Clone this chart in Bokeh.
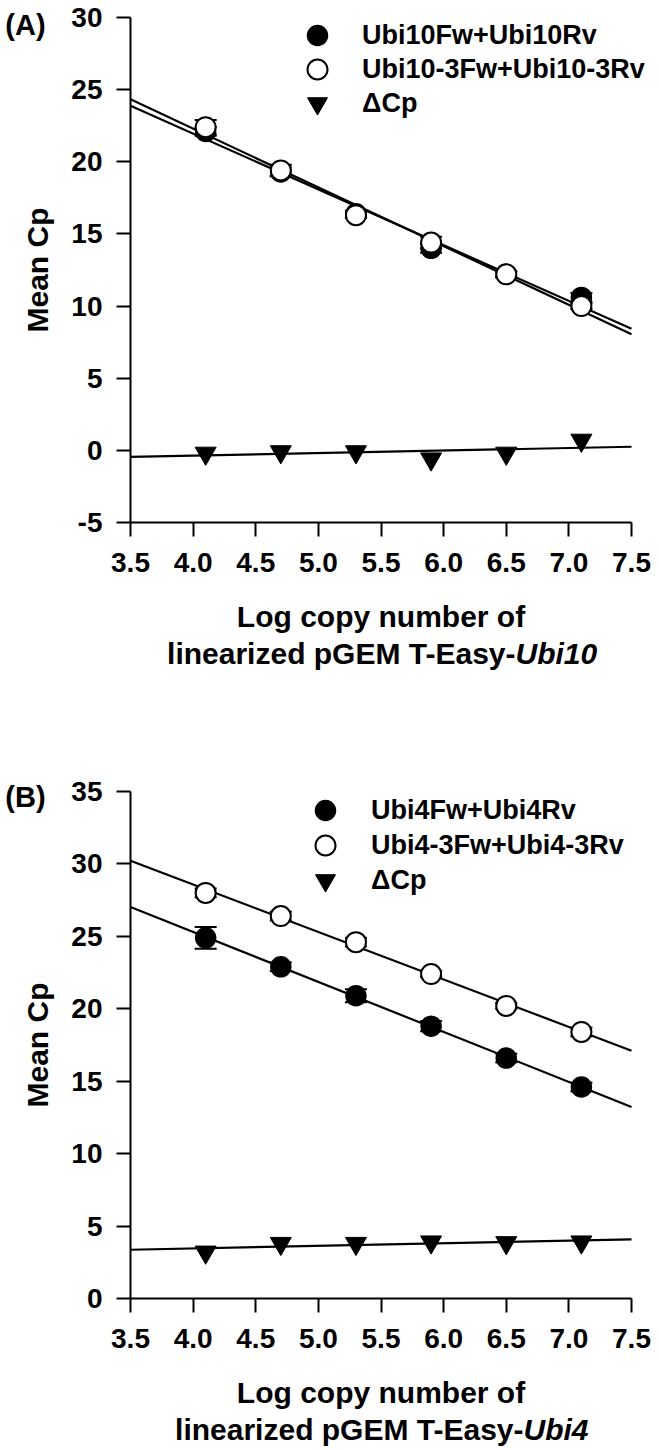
import numpy as np
from bokeh.plotting import figure
from bokeh.layouts import column
from bokeh.models import (Legend, LegendItem, Label, Whisker, TeeHead, ColumnDataSource,
                          FixedTicker, PrintfTickFormatter, Range1d)
from bokeh.embed import file_html
from bokeh.resources import INLINE

# ---------------- data ----------------
log_copy = [4.1, 4.7, 5.3, 5.9, 6.5, 7.1]
x_ticks = [3.5, 4.0, 4.5, 5.0, 5.5, 6.0, 6.5, 7.0, 7.5]

# panel A
a_ubi10 = [22.1, 19.3, 16.4, 14.0, 12.2, 10.6]
a_ubi10_err = [0.3, 0.3, 0.2, 0.3, 0.2, 0.3]
a_ubi10_3 = [22.4, 19.4, 16.3, 14.4, 12.2, 10.0]
a_ubi10_3_err = [0.5, 0.4, 0.2, 0.4, 0.2, 0.2]
a_dcp = [-0.2, -0.1, -0.1, -0.6, -0.2, 0.7]
a_yticks = [-5, 0, 5, 10, 15, 20, 25, 30]
a_labels = ["Ubi10Fw+Ubi10Rv", "Ubi10-3Fw+Ubi10-3Rv", "ΔCp"]

# panel B
b_ubi4 = [24.9, 22.9, 20.9, 18.8, 16.6, 14.6]
b_ubi4_err = [0.75, 0.3, 0.45, 0.35, 0.3, 0.3]
b_ubi4_3 = [28.0, 26.4, 24.6, 22.4, 20.2, 18.4]
b_ubi4_3_err = [0.3, 0.3, 0.3, 0.2, 0.2, 0.3]
b_dcp = [3.2, 3.8, 3.8, 3.9, 3.85, 3.9]
b_yticks = [0, 5, 10, 15, 20, 25, 30, 35]
b_labels = ["Ubi4Fw+Ubi4Rv", "Ubi4-3Fw+Ubi4-3Rv", "ΔCp"]

FONT = "Liberation Sans"
FIG_W = 659
AX_LEFT_PX = 130     # pixel of the first x tick
AX_RIGHT_PX = 631    # pixel of the last x tick


def build_panel(height, top_px, bottom_px, y_ticks, filled, filled_err, opened, opened_err,
                dcp, labels, tag, gene, leg_centers, leg_left, leg_standoff,
                title_mid1, title_mid2, split_px, tag_cy):
    x0, x1 = x_ticks[0], x_ticks[-1]
    y0, y1 = y_ticks[0], y_ticks[-1]
    ppx = (AX_RIGHT_PX - AX_LEFT_PX) / (x1 - x0)
    ppy = (bottom_px - top_px) / (y1 - y0)
    xr = Range1d(x0 - AX_LEFT_PX / ppx, x1 + (FIG_W - AX_RIGHT_PX) / ppx)
    yr = Range1d(y0 - (height - bottom_px) / ppy, y1 + top_px / ppy)

    def dx(px):
        return x0 + (px - AX_LEFT_PX) / ppx

    def dy(py):
        return y1 - (py - top_px) / ppy

    p = figure(width=FIG_W, height=height, x_range=xr, y_range=yr,
               output_backend="svg", toolbar_location=None, min_border=0)
    p.outline_line_color = None
    p.grid.visible = False

    for ax in (p.xaxis[0], p.yaxis[0]):
        ax.axis_line_width = 2
        ax.axis_line_color = "black"
        ax.major_tick_line_width = 2
        ax.major_tick_line_color = "black"
        ax.major_tick_out = 14
        ax.major_tick_in = 0
        ax.minor_tick_line_color = None
        ax.major_label_text_font = FONT
        ax.major_label_text_font_style = "bold"
        ax.major_label_text_font_size = "28px"
        ax.major_label_text_color = "black"
        ax.major_label_standoff = 14
    p.xaxis.major_label_standoff = 16
    p.xaxis.ticker = FixedTicker(ticks=x_ticks)
    p.xaxis.formatter = PrintfTickFormatter(format="%.1f")
    p.xaxis.fixed_location = y0
    p.xaxis.bounds = (x0, x1)
    p.yaxis.ticker = FixedTicker(ticks=y_ticks)
    p.yaxis.formatter = PrintfTickFormatter(format="%d")
    p.yaxis.fixed_location = x0
    p.yaxis.bounds = (y0, y1)
    p.yaxis.axis_label = "Mean Cp"
    p.yaxis.axis_label_text_font = FONT
    p.yaxis.axis_label_text_font_style = "bold"
    p.yaxis.axis_label_text_font_size = "30px"
    p.yaxis.axis_label_text_color = "black"
    p.yaxis.axis_label_standoff = 14

    xs = np.array([x0, x1])
    for ys in (filled, opened, dcp):
        coef = np.polyfit(log_copy, ys, 1)
        p.line(xs, np.polyval(coef, xs), line_color="black", line_width=2.2)

    for ys, err in ((filled, filled_err), (opened, opened_err)):
        src = ColumnDataSource(dict(x=log_copy,
                                    lo=[v - e for v, e in zip(ys, err)],
                                    hi=[v + e for v, e in zip(ys, err)]))
        w = Whisker(base="x", lower="lo", upper="hi", source=src, line_width=2, line_color="black",
                    lower_head=TeeHead(size=22, line_width=2, line_color="black"),
                    upper_head=TeeHead(size=22, line_width=2, line_color="black"),
                    level="underlay")
        p.add_layout(w)

    r1 = p.scatter(log_copy, filled, marker="circle", size=20, fill_color="black",
                   line_color="black", line_width=1.5)
    r2 = p.scatter(log_copy, opened, marker="circle", size=20, fill_color="white",
                   line_color="black", line_width=2)
    r3 = p.scatter(log_copy, dcp, marker="inverted_triangle", size=21, fill_color="black",
                   line_color="black", line_width=1)

    # one legend per row, so that the rows can sit closer than the glyph boxes
    for rend, lab, cy in zip((r1, r2, r3), labels, leg_centers):
        leg = Legend(items=[LegendItem(label=lab, renderers=[rend])],
                     location=(leg_left, height - (cy + 25)), orientation="vertical",
                     glyph_width=50, glyph_height=50, spacing=0, padding=0, margin=0,
                     label_standoff=leg_standoff, label_text_font=FONT,
                     label_text_font_style="bold", label_text_font_size="27px",
                     label_text_color="black", background_fill_alpha=0,
                     border_line_color=None)
        p.add_layout(leg)

    # panel tag
    p.add_layout(Label(x=dx(25), y=dy(tag_cy), text=tag, text_font=FONT,
                       text_font_style="bold", text_font_size="29px", text_align="center",
                       text_baseline="middle", text_color="black"))
    # x-axis title (two lines, with italic gene name)
    p.add_layout(Label(x=dx((AX_LEFT_PX + AX_RIGHT_PX) / 2), y=dy(title_mid1),
                       text="Log copy number of",
                       text_font=FONT, text_font_style="bold", text_font_size="30px",
                       text_align="center", text_baseline="middle", text_color="black"))
    p.add_layout(Label(x=dx(split_px), y=dy(title_mid2), text="linearized pGEM T-Easy-",
                       text_font=FONT, text_font_style="bold", text_font_size="30px",
                       text_align="right", text_baseline="middle", text_color="black"))
    p.add_layout(Label(x=dx(split_px), y=dy(title_mid2), text=gene,
                       text_font=FONT, text_font_style="bold italic", text_font_size="30px",
                       text_align="left", text_baseline="middle", text_color="black"))
    return p


pA = build_panel(700, 17, 522, a_yticks, a_ubi10, a_ubi10_err, a_ubi10_3, a_ubi10_3_err, a_dcp,
                 a_labels, "(A)", "Ubi10", (35, 69, 103), 292, 20, 616, 653, 515, 24)
pB = build_panel(750, 91, 598, b_yticks, b_ubi4, b_ubi4_err, b_ubi4_3, b_ubi4_3_err, b_dcp,
                 b_labels, "(B)", "Ubi4", (110, 145, 180), 300, 21, 692, 729, 523, 96)

layout = column(pA, pB, spacing=0)
open("out.html", "w").write(file_html(layout, INLINE))
